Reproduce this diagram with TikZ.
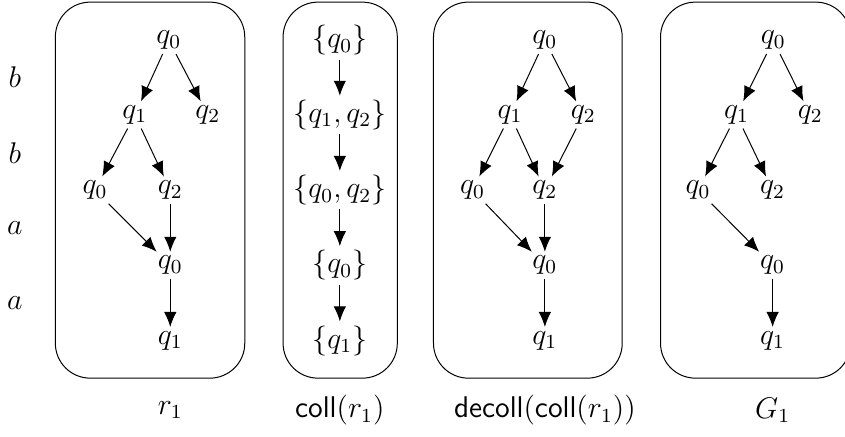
\documentclass[tikz,border=0pt]{standalone}
\usepackage{tikz}
\usepackage{amsmath}
\usepackage{amssymb}
\usetikzlibrary{arrows.meta}

\begin{document}
\begin{tikzpicture}[>={Latex[length=6pt,width=5pt]},font=\large,inner sep=1.5pt]
    \useasboundingbox (0,0) rectangle (11.91,6.15);
    \tikzset{frame/.style={rounded corners=14pt}}
    % Letters of the word:
    \node (w1) at (0.21,5.06) {$b$};
    \node (w2) at (0.21,3.99) {$b$};
    \node (w3) at (0.21,2.93) {$a$};
    \node (w4) at (0.21,1.88) {$a$};

    % The run r_1:
    \draw [frame] (0.78,0.82) rectangle (3.45,6.12);
    \node (r00) at (2.38,5.58) {$q_0$};
    \node (r11) at (1.90,4.53) {$q_1$};
    \node (r12) at (2.93,4.53) {$q_2$};
    \node (r20) at (1.34,3.47) {$q_0$};
    \node (r22) at (2.40,3.47) {$q_2$};
    \node (r30) at (2.40,2.41) {$q_0$};
    \node (r41) at (2.40,1.35) {$q_1$};
    \draw [->] (r00) -- (r11);
    \draw [->] (r00) -- (r12);
    \draw [->] (r11) -- (r20);
    \draw [->] (r11) -- (r22);
    \draw [->] (r20) -- (r30);
    \draw [->] (r22) -- (r30);
    \draw [->] (r30) -- (r41);
    \node (rl) at (2.40,0.37) {$r_1$};

    % coll(r_1):
    \draw [frame] (3.99,0.82) rectangle (5.60,6.12);
    \node (c0) at (4.79,5.58) {$\{q_0\}$};
    \node (c1) at (4.79,4.53) {$\{q_1,q_2\}$};
    \node (c2) at (4.79,3.47) {$\{q_0,q_2\}$};
    \node (c3) at (4.79,2.41) {$\{q_0\}$};
    \node (c4) at (4.79,1.35) {$\{q_1\}$};
    \foreach \a/\b in {c0/c1,c1/c2,c2/c3,c3/c4}
        \draw [->] (\a) -- (\b);
    \node (cl) at (4.79,0.37) {$\mathsf{coll}(r_1)$};

    % decoll(coll(r_1)):
    \draw [frame] (6.11,0.82) rectangle (8.77,6.12);
    \node (d00) at (7.68,5.58) {$q_0$};
    \node (d11) at (7.19,4.53) {$q_1$};
    \node (d12) at (8.22,4.53) {$q_2$};
    \node (d20) at (6.66,3.47) {$q_0$};
    \node (d22) at (7.68,3.47) {$q_2$};
    \node (d30) at (7.68,2.41) {$q_0$};
    \node (d41) at (7.68,1.35) {$q_1$};
    \draw [->] (d00) -- (d11);
    \draw [->] (d00) -- (d12);
    \draw [->] (d11) -- (d20);
    \draw [->] (d11) -- (d22);
    \draw [->] (d12) -- (d22);
    \draw [->] (d20) -- (d30);
    \draw [->] (d22) -- (d30);
    \draw [->] (d30) -- (d41);
    \node (dl) at (7.68,0.37) {$\mathsf{decoll}(\mathsf{coll}(r_1))$};

    % G_1:
    \draw [frame] (9.31,0.82) rectangle (11.99,6.12);
    \node (g00) at (10.90,5.58) {$q_0$};
    \node (g11) at (10.38,4.53) {$q_1$};
    \node (g12) at (11.42,4.53) {$q_2$};
    \node (g20) at (9.84,3.47) {$q_0$};
    \node (g22) at (10.89,3.47) {$q_2$};
    \node (g30) at (10.89,2.41) {$q_0$};
    \node (g41) at (10.89,1.35) {$q_1$};
    \draw [->] (g00) -- (g11);
    \draw [->] (g00) -- (g12);
    \draw [->] (g11) -- (g20);
    \draw [->] (g11) -- (g22);
    \draw [->] (g20) -- (g30);
    \draw [->] (g30) -- (g41);
    \node (gl) at (10.89,0.37) {$G_1$};
\end{tikzpicture}
\end{document}
